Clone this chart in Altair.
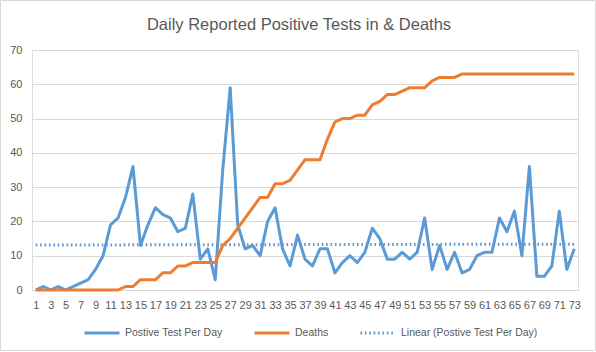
import altair as alt
import pandas as pd

days = list(range(1, 74))

tests = [0, 1, 0, 1, 0, 1, 2, 3, 6, 10,
         19, 21, 27, 36, 13, 19, 24, 22, 21, 17,
         18, 28, 9, 12, 3, 35, 59, 19, 12, 13,
         10, 20, 24, 12, 7, 16, 9, 7, 12, 12,
         5, 8, 10, 8, 11, 18, 15, 9, 9, 11,
         9, 11, 21, 6, 13, 6, 11, 5, 6, 10,
         11, 11, 21, 17, 23, 10, 36, 4, 4, 7,
         23, 6, 12]

deaths = [0, 0, 0, 0, 0, 0, 0, 0, 0, 0,
          0, 0, 1, 1, 3, 3, 3, 5, 5, 7,
          7, 8, 8, 8, 8, 13, 15, 18, 21, 24,
          27, 27, 31, 31, 32, 35, 38, 38, 38, 44,
          49, 50, 50, 51, 51, 54, 55, 57, 57, 58,
          59, 59, 59, 61, 62, 62, 62, 63, 63, 63,
          63, 63, 63, 63, 63, 63, 63, 63, 63, 63,
          63, 63, 63]

x_ticks = list(range(1, 74, 2))
y_ticks = list(range(0, 71, 10))

S_TEST = "Postive Test Per Day"
S_DEATH = "Deaths"
S_LIN = "Linear (Postive Test Per Day)"
series_names = [S_TEST, S_DEATH, S_LIN]
series_colors = ["#5B9BD5", "#ED7D31", "#5B9BD5"]
series_dash = [[1, 0], [1, 0], [1.6, 2.8]]
series_width = [3, 3, 1.6]

df = pd.DataFrame({
    "day": days + days,
    "value": tests + deaths,
    "series": [S_TEST] * len(days) + [S_DEATH] * len(days),
})

TEXT = "#595959"
GRID = "#D9D9D9"
FONT = "Liberation Sans"

legend = alt.Legend(
    orient="none", legendX=51, legendY=264, direction="horizontal",
    title=None, symbolType="stroke", symbolSize=1225, labelOffset=4,
    columnPadding=25, labelFont=FONT, labelFontSize=10.5, labelColor=TEXT,
)

x_enc = alt.X("day:Q", scale=alt.Scale(domain=[0.5, 73.5], nice=False, zero=False),
              axis=alt.Axis(values=x_ticks, title=None, grid=False, ticks=False,
                            labelOverlap=False, labelFlush=False, labelPadding=9,
                            labelFont=FONT, labelFontSize=11, labelColor=TEXT,
                            domainColor=GRID, domainWidth=1))
y_enc = alt.Y("value:Q", scale=alt.Scale(domain=[0, 70], nice=False),
              axis=alt.Axis(values=y_ticks, title=None, domain=False, ticks=False,
                            gridColor=GRID, gridWidth=1, labelPadding=10,
                            labelFont=FONT, labelFontSize=11, labelColor=TEXT))
color_enc = alt.Color("series:N", scale=alt.Scale(domain=series_names, range=series_colors),
                      legend=legend)
dash_enc = alt.StrokeDash("series:N", scale=alt.Scale(domain=series_names, range=series_dash),
                          legend=legend)
width_enc = alt.StrokeWidth("series:N", scale=alt.Scale(domain=series_names, range=series_width),
                            legend=legend)

base = alt.Chart(df)

lines = base.mark_line(strokeJoin="round").encode(
    x=x_enc, y=y_enc, color=color_enc, strokeDash=dash_enc, strokeWidth=width_enc
)

trend = base.transform_filter(
    alt.datum.series == S_TEST
).transform_regression(
    "day", "value", method="linear"
).transform_calculate(
    series=f"'{S_LIN}'"
).mark_line().encode(
    x=x_enc, y=y_enc, color=color_enc, strokeDash=dash_enc, strokeWidth=width_enc
)

frame = alt.Chart(pd.DataFrame({"k": [0]})).mark_rect(
    fill="transparent", stroke=GRID, strokeWidth=1
).encode(
    x=alt.value(-31.5), x2=alt.value(563.5), y=alt.value(-49.5), y2=alt.value(300.5)
)

chart = alt.layer(trend, lines, frame).properties(
    width=546, height=240,
    title=alt.TitleParams(
        "Daily Reported Positive Tests in & Deaths",
        font=FONT, fontSize=16.5, fontWeight="normal", color=TEXT,
        anchor="middle", dx=-6, offset=-33,
    ),
    autosize=alt.AutoSizeParams(type="none"),
    padding={"left": 32, "top": 50, "right": 18, "bottom": 62},
).configure_view(strokeWidth=0).configure(background="white")

chart.save("out.html", embed_options={"renderer": "svg", "actions": False})
